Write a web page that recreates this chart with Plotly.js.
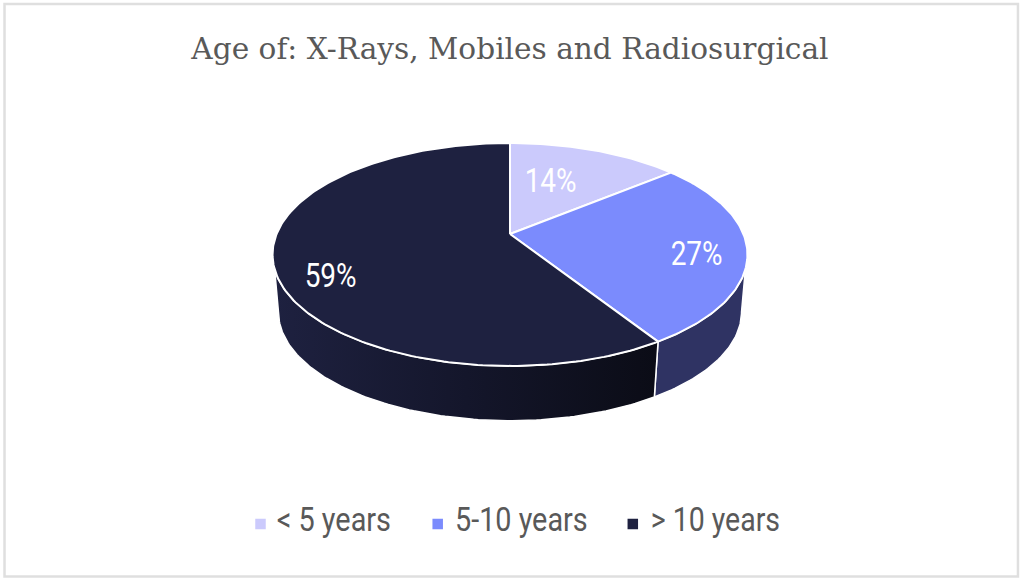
<!DOCTYPE html>
<html>
<head>
<meta charset="utf-8">
<script src="https://cdn.plot.ly/plotly-3.0.1.min.js"></script>
<style>html,body{margin:0;padding:0;background:#fff}#chart{width:1024px;height:583px}</style>
</head>
<body>
<div id="chart"></div>
<script>
const categories = ['< 5 years', '5-10 years', '> 10 years'];
const values = [14, 27, 59];
const sliceColors = ['#cbcafc', '#7b8bfd', '#1e2140'];
const wallStops = [
  [[0, '#8f8eb8'], [1, '#8f8eb8']],
  [[0, '#2f3363'], [1, '#2f3363']],
  [[0, '#1e2140'], [0.5, '#14162b'], [1, '#0b0c16']]
];
const titleText = 'Age of: X-Rays, Mobiles and Radiosurgical';

// projection of the pie disc (axis units are page pixels)
const cx = 510, cy = 234, ra = 233.4, rb = 107.7, persp = 0.184;
const depth = {scale: 0.975, ellipseCy: 254.5, wallCy: 312};
const rimVisible = [0.30, 0.70], baseVisible = [0.2794, 0.7206];
const labelRadius = 0.78;
const labelShift = [[-28, 14], [3, 6], [3, 17]];
const labelWidth = 52;
// legend placement in page pixels
const legendMarkerX = [260.5, 437.7, 632.8], legendTextX = [276.7, 455, 650.7];
const legendWidths = [114.3, 132.7, 129.3];
const legendMarkerY = 524, legendTextLift = 6;

function discPoint(frac, r) {
  const t = 2 * Math.PI * frac, u = r * Math.sin(t), v = r * Math.cos(t);
  const d = 1 + persp * v;
  return [cx + ra * u / d, cy - rb * v / d];
}
function low(p) {
  return [cx + (p[0] - cx) * depth.scale, depth.wallCy + (p[1] - depth.ellipseCy) * depth.scale];
}
function arc(a, b) {
  const out = [], n = Math.max(8, Math.ceil((b - a) * 360));
  for (let i = 0; i <= n; i++) out.push(discPoint(a + (b - a) * i / n, 1));
  return out;
}

const total = values.reduce((s, v) => s + v, 0);
const walls = [], tops = [], legendItems = [], annotations = [];
let acc = 0;
values.forEach((val, i) => {
  const a = acc / total, b = (acc + val) / total;
  acc += val;
  const rim = arc(a, b);
  const ra0 = Math.max(a, rimVisible[0]), rb0 = Math.min(b, rimVisible[1]);
  if (rb0 > ra0) {
    const upper = arc(ra0, rb0);
    const lower = arc(Math.max(a, baseVisible[0]), Math.min(b, baseVisible[1])).map(low).reverse();
    const wall = upper.concat(lower);
    wall.push(wall[0]);
    walls.push({
      type: 'scatter', mode: 'lines', x: wall.map(p => p[0]), y: wall.map(p => p[1]),
      fill: 'toself', fillgradient: {type: 'horizontal', colorscale: wallStops[i]},
      line: {color: '#ffffff', width: 1.5}, hoverinfo: 'skip', showlegend: false
    });
  }
  const poly = [[cx, cy]].concat(rim, [[cx, cy]]);
  tops.push({
    type: 'scatter', mode: 'lines', x: poly.map(p => p[0]), y: poly.map(p => p[1]),
    fill: 'toself', fillcolor: sliceColors[i], line: {color: '#ffffff', width: 2},
    name: categories[i], text: categories[i] + ': ' + val + '%', hoverinfo: 'text', showlegend: false
  });
  legendItems.push({
    type: 'scatter', mode: 'markers', x: [-50], y: [-50], name: categories[i],
    marker: {symbol: 'square', size: 10.5, color: sliceColors[i]}, hoverinfo: 'skip'
  });
  const c = discPoint((a + b) / 2, labelRadius);
  annotations.push({
    x: c[0], y: c[1], xref: 'x', yref: 'y', text: val + '%', showarrow: false,
    xshift: labelShift[i][0], yshift: -labelShift[i][1],
    font: {family: 'Roboto, sans-serif', size: 33, color: '#ffffff'}
  });
});

const layout = {
  width: 1024, height: 583,
  margin: {l: 0, r: 0, t: 0, b: 0},
  paper_bgcolor: '#ffffff', plot_bgcolor: '#ffffff',
  title: {
    text: titleText, x: 0.498, xanchor: 'center', y: 0.916, yanchor: 'middle',
    font: {family: '"DejaVu Serif", serif', size: 29.6, color: '#595959'}
  },
  xaxis: {visible: false, range: [0, 1024], fixedrange: true},
  yaxis: {visible: false, range: [583, 0], fixedrange: true},
  legend: {
    orientation: 'h', x: 0.5, xanchor: 'center', y: 0.105, yanchor: 'middle',
    font: {family: 'Roboto, sans-serif', size: 33, color: '#595959'},
    bgcolor: 'rgba(0,0,0,0)', borderwidth: 0
  },
  annotations: annotations,
  shapes: [{
    type: 'rect', xref: 'paper', yref: 'paper', x0: 0.0044, x1: 0.9941, y0: 0.0111, y1: 0.9931,
    line: {color: '#dfdfdf', width: 2.5}, fillcolor: 'rgba(0,0,0,0)', layer: 'below'
  }]
};

Plotly.newPlot('chart', walls.concat(tops, legendItems), layout, {displayModeBar: false, responsive: false}).then(gd => {
  // condense the label glyphs to the narrow face of the reference and place the legend entries
  gd.querySelectorAll('.legend .traces').forEach((g, i) => {
    const mark = g.querySelector('.legendpoints path').getBoundingClientRect();
    const m = /translate\(\s*([-\d.]+)[ ,]+([-\d.]+)/.exec(g.getAttribute('transform') || '') || [0, 0, 0];
    const dx = legendMarkerX[i] - (mark.left + mark.right) / 2;
    const dy = legendMarkerY - (mark.top + mark.bottom) / 2;
    g.setAttribute('transform', 'translate(' + (+m[1] + dx) + ',' + (+m[2] + dy) + ')');
    const t = g.querySelector('.legendtext');
    t.setAttribute('textLength', legendWidths[i]);
    t.setAttribute('lengthAdjust', 'spacingAndGlyphs');
    const left = t.getBoundingClientRect().left;
    t.setAttribute('x', +t.getAttribute('x') + legendTextX[i] - left);
    t.setAttribute('y', +t.getAttribute('y') - legendTextLift);
  });
  gd.querySelectorAll('.annotation-text').forEach(el => {
    el.setAttribute('textLength', labelWidth);
    el.setAttribute('lengthAdjust', 'spacingAndGlyphs');
  });
});
</script>
</body>
</html>
